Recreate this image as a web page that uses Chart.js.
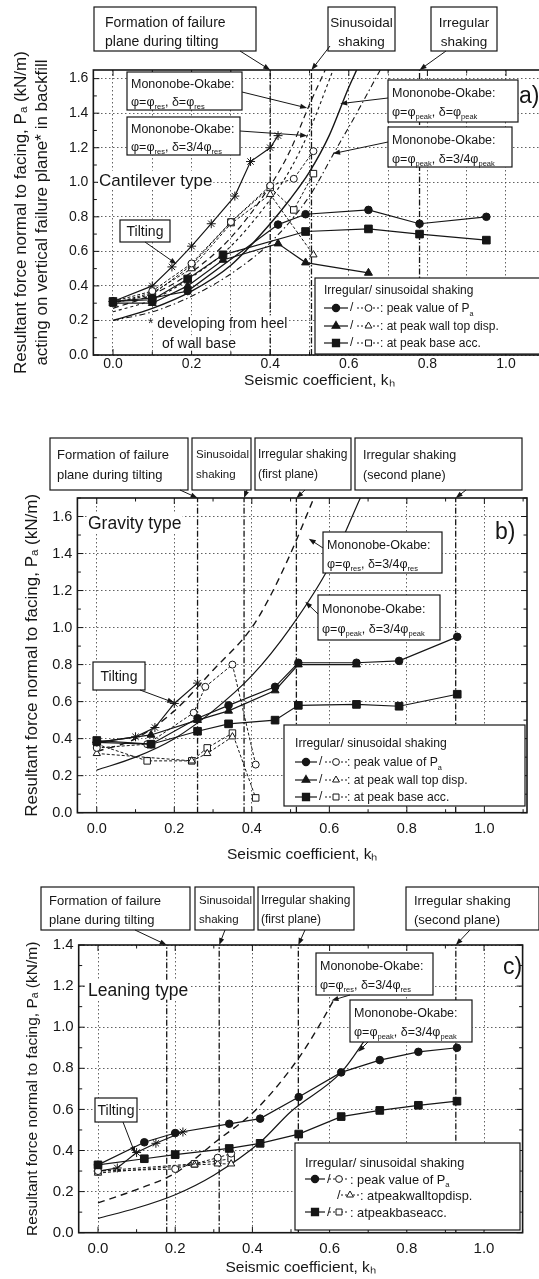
<!DOCTYPE html>
<html><head><meta charset="utf-8">
<script src="https://cdn.jsdelivr.net/npm/chart.js@4.4.1/dist/chart.umd.min.js"></script>
<style>
html,body{margin:0;padding:0;background:#fff;width:539px;height:1279px;overflow:hidden;position:relative}
canvas{position:absolute;left:0}
</style></head><body>
<canvas id="ca" width="560" height="395" style="top:0"></canvas>
<canvas id="cb" width="539" height="470" style="top:400px"></canvas>
<canvas id="cc" width="539" height="409" style="top:870px"></canvas>
<script>
// ================= DATA =================
const xTickLabels = ['0.0','0.2','0.4','0.6','0.8','1.0'];
// ---- Panel a) Cantilever type ----
const aPeakIrr   = [[0,0.31],[0.10,0.33],[0.19,0.37],[0.42,0.755],[0.49,0.815],[0.65,0.84],[0.78,0.76],[0.95,0.80]];
const aDispIrr   = [[0,0.30],[0.10,0.30],[0.19,0.40],[0.28,0.55],[0.42,0.645],[0.49,0.535],[0.65,0.475]];
const aAccIrr    = [[0,0.31],[0.10,0.32],[0.19,0.44],[0.28,0.58],[0.49,0.715],[0.65,0.73],[0.78,0.70],[0.95,0.665]];
const aPeakSin   = [[0,0.31],[0.10,0.37],[0.20,0.53],[0.30,0.77],[0.40,0.98],[0.46,1.02],[0.51,1.18]];
const aDispSin   = [[0,0.30],[0.10,0.36],[0.20,0.50],[0.30,0.76],[0.40,0.93],[0.51,0.58]];
const aAccSin    = [[0,0.30],[0.10,0.35],[0.20,0.52],[0.30,0.77],[0.40,0.97],[0.46,0.84],[0.51,1.05]];
const aTilting   = [[0,0.31],[0.10,0.40],[0.15,0.51],[0.20,0.63],[0.25,0.76],[0.31,0.92],[0.35,1.12],[0.40,1.20],[0.42,1.27]];
const aMOresRes  = [[0,0.27],[0.1,0.35],[0.2,0.48],[0.3,0.68],[0.4,0.98],[0.45,1.18],[0.5,1.45],[0.54,1.65]];
const aMOres34   = [[0,0.25],[0.1,0.32],[0.2,0.45],[0.3,0.63],[0.4,0.90],[0.45,1.07],[0.5,1.30],[0.56,1.65]];
const aMOpeakPk  = [[0,0.20],[0.1,0.27],[0.2,0.37],[0.3,0.52],[0.4,0.76],[0.45,0.90],[0.5,1.06],[0.55,1.27],[0.6,1.55],[0.62,1.65]];
const aMOpeak34  = [[0,0.20],[0.1,0.25],[0.2,0.34],[0.3,0.47],[0.4,0.65],[0.5,0.92],[0.56,1.16],[0.62,1.40],[0.68,1.65]];
const aEventK    = [0.40, 0.505, 0.78];
// ---- Panel b) Gravity type ----
const bPeakIrr   = [[0,0.38],[0.14,0.37],[0.26,0.51],[0.34,0.58],[0.46,0.68],[0.52,0.81],[0.67,0.81],[0.78,0.82],[0.93,0.95]];
const bDispIrr   = [[0,0.38],[0.14,0.42],[0.26,0.50],[0.34,0.55],[0.46,0.66],[0.52,0.80],[0.67,0.80]];
const bAccIrr    = [[0,0.39],[0.14,0.37],[0.26,0.44],[0.34,0.48],[0.46,0.50],[0.52,0.58],[0.67,0.585],[0.78,0.575],[0.93,0.64]];
const bPeakSin   = [[0,0.35],[0.13,0.37],[0.25,0.54],[0.28,0.68],[0.35,0.80],[0.41,0.26]];
const bDispSin   = [[0,0.32],[0.245,0.28],[0.285,0.32],[0.35,0.41]];
const bAccSin    = [[0,0.37],[0.13,0.28],[0.245,0.28],[0.285,0.35],[0.35,0.43],[0.41,0.08]];
const bTilting   = [[0,0.38],[0.10,0.41],[0.15,0.46],[0.20,0.59],[0.26,0.70]];
const bMOres34   = [[0,0.33],[0.1,0.40],[0.2,0.55],[0.3,0.77],[0.4,1.00],[0.45,1.18],[0.5,1.40],[0.56,1.70]];
const bMOpeak34  = [[0,0.23],[0.1,0.30],[0.2,0.40],[0.3,0.55],[0.4,0.74],[0.5,1.00],[0.6,1.33],[0.68,1.70]];
const bEventK    = [0.26, 0.38, 0.515, 0.926];
// ---- Panel c) Leaning type ----
const cPeakIrr   = [[0,0.33],[0.12,0.44],[0.20,0.485],[0.34,0.53],[0.42,0.555],[0.52,0.66],[0.63,0.78],[0.73,0.84],[0.83,0.88],[0.93,0.90]];
const cAccIrr    = [[0,0.33],[0.12,0.36],[0.20,0.38],[0.34,0.41],[0.42,0.435],[0.52,0.48],[0.63,0.565],[0.73,0.595],[0.83,0.62],[0.93,0.64]];
const cPeakSin   = [[0,0.30],[0.20,0.31],[0.31,0.365],[0.345,0.385]];
const cDispSin   = [[0,0.29],[0.25,0.33],[0.31,0.335],[0.345,0.335]];
const cAccSin    = [[0,0.30],[0.25,0.335],[0.31,0.35],[0.345,0.36]];
const cTilting   = [[0,0.30],[0.05,0.315],[0.10,0.39],[0.15,0.435],[0.22,0.49]];
const cMOres34   = [[0,0.145],[0.1,0.21],[0.2,0.29],[0.31,0.45],[0.41,0.60],[0.52,0.85],[0.58,1.03],[0.61,1.13]];
const cMOpeak34  = [[0,0.07],[0.1,0.12],[0.2,0.185],[0.3,0.28],[0.42,0.44],[0.5,0.59],[0.63,0.78],[0.70,0.96]];
const cEventK    = [0.178, 0.314, 0.519, 0.927];

// ================= HELPERS =================
const FONT = "'Liberation Sans', Arial, sans-serif";
const INK = '#161616';
const pts = a => a.map(([x,y]) => ({x, y}));

function dsMarker(arr, style, filled, dashed, r) {
  return { data: pts(arr), showLine: true, borderColor: INK, borderWidth: dashed ? 1 : 1.2,
    borderDash: dashed ? [3,2] : [], pointStyle: style, pointRadius: r,
    pointBackgroundColor: filled ? INK : '#fff', pointBorderColor: INK, pointBorderWidth: 1, order: 1 };
}
function dsCurve(arr, dash, w) {
  return { data: pts(arr), showLine: true, borderColor: INK, borderWidth: w, borderDash: dash,
    pointRadius: 0, cubicInterpolationMode: 'monotone', order: 2 };
}
function dsEvents(ks, yMax) {
  return ks.map(k => ({ data: [{x:k,y:0},{x:k,y:yMax}], showLine: true, borderColor: INK, borderWidth: 1.3,
    borderDash: [6,2,1.5,2], pointRadius: 0, order: 3 }));
}

function richParse(s) {
  const out = []; let i = 0, buf = '';
  while (i < s.length) {
    if (s[i] === '_' && s[i+1] === '{') {
      if (buf) { out.push([buf,false]); buf=''; }
      const j = s.indexOf('}', i); out.push([s.slice(i+2,j), true]); i = j+1;
    } else { buf += s[i]; i++; }
  }
  if (buf) out.push([buf,false]);
  return out;
}
function drawRich(ctx, s, x, y, size, align) {
  const segs = richParse(s);
  let w = 0;
  segs.forEach(([t,sub]) => { ctx.font = (sub ? size*0.6 : size) + 'px ' + FONT; w += ctx.measureText(t).width; });
  let cx = align === 'center' ? x - w/2 : x;
  ctx.textAlign = 'left'; ctx.textBaseline = 'alphabetic'; ctx.fillStyle = INK;
  segs.forEach(([t,sub]) => {
    ctx.font = (sub ? size*0.6 : size) + 'px ' + FONT;
    ctx.fillText(t, cx, sub ? y + size*0.28 : y);
    cx += ctx.measureText(t).width;
  });
  return w;
}
function arrow(ctx, x1, y1, x2, y2) {
  const a = Math.atan2(y2-y1, x2-x1), L = 7, W = 2.6;
  ctx.save(); ctx.strokeStyle = INK; ctx.fillStyle = INK; ctx.lineWidth = 1; ctx.setLineDash([]);
  ctx.beginPath(); ctx.moveTo(x1,y1); ctx.lineTo(x2 - L*0.8*Math.cos(a), y2 - L*0.8*Math.sin(a)); ctx.stroke();
  ctx.beginPath(); ctx.moveTo(x2,y2);
  ctx.lineTo(x2 - L*Math.cos(a) + W*Math.sin(a), y2 - L*Math.sin(a) - W*Math.cos(a));
  ctx.lineTo(x2 - L*Math.cos(a) - W*Math.sin(a), y2 - L*Math.sin(a) + W*Math.cos(a));
  ctx.closePath(); ctx.fill(); ctx.restore();
}
function box(ctx, b) {
  ctx.save(); ctx.fillStyle = '#fff'; ctx.fillRect(b.x1, b.y1, b.x2-b.x1, b.y2-b.y1);
  ctx.strokeStyle = INK; ctx.lineWidth = 1.2; ctx.setLineDash([]);
  ctx.strokeRect(b.x1, b.y1, b.x2-b.x1, b.y2-b.y1);
  b.lines.forEach((t,i) => {
    const cy = b.y1 + b.first + i*b.lh;
    if (b.center) drawRich(ctx, t, (b.x1+b.x2)/2, cy + b.size*0.36, b.size, 'center');
    else drawRich(ctx, t, b.x1 + b.tx, cy + b.size*0.36, b.size, 'left');
  });
  ctx.restore();
}
function label(ctx, t, x, y, size, bg) {
  ctx.save(); ctx.font = size + 'px ' + FONT;
  const w = ctx.measureText(t).width;
  if (bg) { ctx.fillStyle = '#fff'; ctx.fillRect(x-1, y - size*0.55, w+2, size*1.1); }
  drawRich(ctx, t, x, y + size*0.36, size, 'left');
  ctx.restore();
}
function legendRow(ctx, x, y, s1, s2, text, size, g) {
  ctx.save(); ctx.strokeStyle = INK; ctx.fillStyle = INK;
  if (s1) {
    ctx.lineWidth = 1.2; ctx.setLineDash([]);
    ctx.beginPath(); ctx.moveTo(x+g.a1, y); ctx.lineTo(x+g.a2, y); ctx.stroke();
    Chart.helpers.drawPoint(ctx, {pointStyle: s1, radius: s1==='rect'?5:(s1==='triangle'?4.5:3.6), borderWidth: 1}, x+(g.a1+g.a2)/2, y);
  }
  ctx.font = size + 'px ' + FONT; ctx.textBaseline = 'middle'; ctx.fillText('/', x+g.slash, y);
  ctx.lineWidth = 1; ctx.setLineDash([2,2]);
  ctx.beginPath(); ctx.moveTo(x+g.b1, y); ctx.lineTo(x+g.b2, y); ctx.stroke(); ctx.setLineDash([]);
  ctx.fillStyle = '#fff';
  Chart.helpers.drawPoint(ctx, {pointStyle: s2, radius: s2==='rect'?4.2:(s2==='triangle'?4:3.4), borderWidth: 1}, x+(g.b1+g.b2)/2, y);
  ctx.fillStyle = INK;
  drawRich(ctx, text, x+g.t, y + size*0.36, size, 'left');
  ctx.restore();
}

function makeDecor(spec) {
  return {
    id: 'decor',
    afterDraw(chart) {
      const ctx = chart.ctx, A = chart.chartArea, xs = chart.scales.x, ys = chart.scales.y;
      ctx.save();
      ctx.strokeStyle = INK; ctx.lineWidth = 1; ctx.setLineDash([]);
      for (let v = 0; v <= ys.max + 1e-9; v += 0.1) {
        const p = ys.getPixelForValue(v), major = Math.round(v*10) % 2 === 0, L = major ? 6 : 3.5;
        ctx.beginPath(); ctx.moveTo(A.left, p); ctx.lineTo(A.left+L, p); ctx.moveTo(A.right, p); ctx.lineTo(A.right-L, p); ctx.stroke();
      }
      for (let v = 0; v <= xs.max + 1e-9; v += 0.1) {
        const p = xs.getPixelForValue(v), major = Math.round(v*10) % 2 === 0, L = major ? 6 : 3.5;
        ctx.beginPath(); ctx.moveTo(p, A.bottom); ctx.lineTo(p, A.bottom-L); ctx.moveTo(p, A.top); ctx.lineTo(p, A.top+L); ctx.stroke();
      }
      ctx.lineWidth = 1.6; ctx.strokeRect(A.left, A.top, A.right-A.left, A.bottom-A.top);
      ctx.translate(0, -spec.offY);
      const P = (k, v) => [xs.getPixelForValue(k), ys.getPixelForValue(v) + spec.offY];
      spec.texts.forEach(t => label(ctx, t.s, t.x, t.y, t.size, t.bg));
      spec.boxes.forEach(b => {
        box(ctx, b);
        if (b.arrow) { const [tx, ty] = P(b.arrow.k, b.arrow.v); arrow(ctx, b.arrow.x, b.arrow.y, tx, ty); }
      });
      const L = spec.legend;
      ctx.fillStyle = '#fff'; ctx.fillRect(L.x1, L.y1, L.x2-L.x1, L.y2-L.y1);
      ctx.strokeStyle = INK; ctx.lineWidth = 1.2; ctx.strokeRect(L.x1, L.y1, L.x2-L.x1, L.y2-L.y1);
      drawRich(ctx, 'Irregular/ sinusoidal shaking', L.tx, L.rows[0] + L.size*0.36, L.size, 'left');
      legendRow(ctx, L.tx, L.rows[1], 'circle', 'circle', L.texts[0], L.size, L.g);
      legendRow(ctx, L.tx, L.rows[2], L.noTri ? null : 'triangle', 'triangle', L.texts[1], L.size, L.g2 || L.g);
      legendRow(ctx, L.tx, L.rows[3], 'rect', 'rect', L.texts[2], L.size, L.g);
      ctx.font = '23px ' + FONT; ctx.fillStyle = INK; ctx.textBaseline = 'middle'; ctx.textAlign = 'left';
      ctx.fillText(spec.letter.s, spec.letter.x, spec.letter.y);
      ctx.restore();
    }
  };
}

function makeChart(id, cfg) {
  const c = document.getElementById(id);
  const W = c.width, H = c.height;
  const tickCb = v => {
    const s = (Math.round(v*10)/10).toFixed(1);
    return xTickLabels.includes(s) && Math.round(v*10) % 2 === 0 ? s : '';
  };
  return new Chart(c, {
    type: 'scatter',
    data: { datasets: cfg.datasets },
    options: {
      responsive: false, animation: false, events: [],
      layout: { padding: { left: 0, top: cfg.area.top, right: W - cfg.area.right, bottom: 0 } },
      plugins: { legend: { display: false }, tooltip: { enabled: false } },
      scales: {
        x: { type: 'linear', min: -0.05, max: cfg.xMax,
          afterFit: s => { s.height = H - cfg.area.bottom; },
          ticks: { stepSize: cfg.xStep, includeBounds: false, autoSkip: false, maxRotation: 0, padding: cfg.xPad,
            color: INK, font: { family: FONT, size: cfg.tickSize }, callback: tickCb },
          grid: { color: '#3a3a3a', lineWidth: 0.8, drawTicks: false },
          border: { display: false, dash: [1.5, 2.5] },
          title: { display: true, text: 'Seismic coefficient, kₕ', color: INK,
            font: { family: FONT, size: 15.5 }, padding: { top: 0, bottom: cfg.xTitlePad } } },
        y: { type: 'linear', min: 0, max: cfg.yMax,
          afterFit: s => { s.width = cfg.area.left; },
          ticks: { stepSize: 0.2, includeBounds: false, padding: 5, color: INK,
            font: { family: FONT, size: cfg.tickSize }, callback: v => v.toFixed(1) },
          grid: { color: '#3a3a3a', lineWidth: 0.8, drawTicks: false },
          border: { display: false, dash: [1.5, 2.5] },
          title: { display: true, text: cfg.yTitle, color: INK,
            font: { family: FONT, size: cfg.yTitleSize, lineHeight: 1.2 }, padding: { top: cfg.yTitlePad, bottom: 0 } } }
      }
    },
    plugins: [makeDecor(cfg.spec)]
  });
}

// ================= PANEL a =================
makeChart('ca', {
  area: { left: 93.35, top: 70, right: 545.3, bottom: 355 }, xMax: 1.1, yMax: 1.65, xStep: 0.1, xPad: 1, xTitlePad: 5, tickSize: 14,
  yTitle: ['Resultant force normal to facing, Pₐ (kN/m)', 'acting on vertical failure plane* in backfill'], yTitlePad: 11.5, yTitleSize: 17,
  datasets: [
    dsMarker(aPeakIrr, 'circle', true, false, 3.8),
    dsMarker(aDispIrr, 'triangle', true, false, 4.6),
    dsMarker(aAccIrr, 'rect', true, false, 5.4),
    dsMarker(aPeakSin, 'circle', false, true, 3.5),
    dsMarker(aDispSin, 'triangle', false, true, 4.2),
    dsMarker(aAccSin, 'rect', false, true, 4.6),
    dsMarker(aTilting, 'star', false, false, 4.5),
    dsCurve(aMOresRes, [6,4], 1.2),
    dsCurve(aMOres34, [3,3], 1.1),
    dsCurve(aMOpeakPk, [], 1.4),
    dsCurve(aMOpeak34, [6,3,1.5,3], 1.1),
    ...dsEvents(aEventK, 1.65)
  ],
  spec: { offY: 0,
    texts: [ { s: 'Cantilever type', x: 99, y: 180, size: 17, bg: true },
             { s: '* developing from heel', x: 148, y: 323, size: 14, bg: true },
             { s: 'of wall base', x: 162, y: 343, size: 14, bg: true } ],
    boxes: [
      { x1: 94, y1: 7, x2: 256, y2: 51, size: 14, first: 15, lh: 19, tx: 11, lines: ['Formation of failure', 'plane during tilting'], arrow: { x: 240, y: 51, k: 0.40, v: 1.65 } },
      { x1: 328, y1: 7, x2: 395, y2: 51, size: 13.5, first: 15, lh: 19, center: true, lines: ['Sinusoidal', 'shaking'], arrow: { x: 330, y: 46, k: 0.505, v: 1.65 } },
      { x1: 431, y1: 7, x2: 497, y2: 51, size: 13.5, first: 15, lh: 19, center: true, lines: ['Irregular', 'shaking'], arrow: { x: 446, y: 51, k: 0.78, v: 1.65 } },
      { x1: 127, y1: 72, x2: 242, y2: 110, size: 12.5, first: 11, lh: 18, tx: 4, lines: ['Mononobe-Okabe:', 'φ=φ_{res}, δ=φ_{res}'], arrow: { x: 242, y: 92, k: 0.494, v: 1.43 } },
      { x1: 127, y1: 117, x2: 240, y2: 155, size: 12.5, first: 11, lh: 18, tx: 4, lines: ['Mononobe-Okabe:', 'φ=φ_{res}, δ=3/4φ_{res}'], arrow: { x: 240, y: 131, k: 0.494, v: 1.27 } },
      { x1: 388, y1: 80, x2: 518, y2: 122, size: 12.5, first: 12, lh: 19, tx: 4, lines: ['Mononobe-Okabe:', 'φ=φ_{peak}, δ=φ_{peak}'], arrow: { x: 388, y: 98, k: 0.578, v: 1.455 } },
      { x1: 388, y1: 127, x2: 512, y2: 167, size: 12.5, first: 12, lh: 19, tx: 4, lines: ['Mononobe-Okabe:', 'φ=φ_{peak}, δ=3/4φ_{peak}'], arrow: { x: 388, y: 142, k: 0.56, v: 1.166 } },
      { x1: 120, y1: 220, x2: 170, y2: 242, size: 14, first: 11, lh: 18, center: true, lines: ['Tilting'], arrow: { x: 145, y: 242, k: 0.162, v: 0.526 } }
    ],
    legend: { x1: 315, y1: 278, x2: 560, y2: 354, tx: 324, size: 12, rows: [290, 308, 326, 343],
      texts: [': peak value of P_{a}', ': at peak wall top disp.', ': at peak base acc.'],
      g: { a1: 0, a2: 24, slash: 26, b1: 33, b2: 56, t: 56 } },
    letter: { s: 'a)', x: 519, y: 97 } }
});

// ================= PANEL b =================
makeChart('cb', {
  area: { left: 77.4, top: 98, right: 527, bottom: 412.7 }, xMax: 1.11, yMax: 1.7, xStep: 0.2, xPad: 8, xTitlePad: 6, tickSize: 14.5,
  yTitle: 'Resultant force normal to facing, Pₐ (kN/m)', yTitlePad: 22, yTitleSize: 17,
  datasets: [
    dsMarker(bPeakIrr, 'circle', true, false, 3.8),
    dsMarker(bDispIrr, 'triangle', true, false, 4.6),
    dsMarker(bAccIrr, 'rect', true, false, 5.4),
    dsMarker(bPeakSin, 'circle', false, true, 3.5),
    dsMarker(bDispSin, 'triangle', false, true, 4.2),
    dsMarker(bAccSin, 'rect', false, true, 4.6),
    dsMarker(bTilting, 'star', false, false, 4.5),
    dsCurve(bMOres34, [7,5], 1.4),
    dsCurve(bMOpeak34, [], 1.2),
    ...dsEvents(bEventK, 1.7)
  ],
  spec: { offY: 400,
    texts: [ { s: 'Gravity type', x: 88, y: 523, size: 17.5, bg: true } ],
    boxes: [
      { x1: 50, y1: 438, x2: 188, y2: 490, size: 13, first: 16, lh: 20, tx: 7, lines: ['Formation of failure', 'plane during tilting'], arrow: { x: 180, y: 490, k: 0.26, v: 1.7 } },
      { x1: 192, y1: 438, x2: 251, y2: 490, size: 11.5, first: 16, lh: 20, tx: 4, lines: ['Sinusoidal', 'shaking'], arrow: { x: 247, y: 490, k: 0.38, v: 1.7 } },
      { x1: 255, y1: 438, x2: 351, y2: 490, size: 12, first: 16, lh: 20, tx: 3, lines: ['Irregular shaking', '(first plane)'], arrow: { x: 305, y: 490, k: 0.515, v: 1.7 } },
      { x1: 355, y1: 438, x2: 522, y2: 490, size: 12.5, first: 16, lh: 20, tx: 8, lines: ['Irregular shaking', '(second plane)'], arrow: { x: 466, y: 490, k: 0.926, v: 1.7 } },
      { x1: 323, y1: 532, x2: 442, y2: 573, size: 12.5, first: 12, lh: 19, tx: 4, lines: ['Mononobe-Okabe:', 'φ=φ_{res}, δ=3/4φ_{res}'], arrow: { x: 323, y: 548, k: 0.547, v: 1.48 } },
      { x1: 318, y1: 595, x2: 440, y2: 640, size: 12.5, first: 13, lh: 20, tx: 4, lines: ['Mononobe-Okabe:', 'φ=φ_{peak}, δ=3/4φ_{peak}'], arrow: { x: 318, y: 614, k: 0.538, v: 1.14 } },
      { x1: 93, y1: 662, x2: 145, y2: 690, size: 14, first: 14, lh: 18, center: true, lines: ['Tilting'], arrow: { x: 140, y: 690, k: 0.20, v: 0.594 } }
    ],
    legend: { x1: 284, y1: 725, x2: 525, y2: 806, tx: 295, size: 12.2, rows: [743, 762, 780, 797],
      texts: [': peak value of P_{a}', ': at peak wall top disp.', ': at peak base acc.'],
      g: { a1: 0, a2: 22, slash: 24, b1: 30, b2: 52, t: 52 } },
    letter: { s: 'b)', x: 495, y: 533 } }
});

// ================= PANEL c =================
makeChart('cc', {
  area: { left: 78.7, top: 75, right: 522.6, bottom: 362.7 }, xMax: 1.1, yMax: 1.4, xStep: 0.2, xPad: 7.6, xTitlePad: 2, tickSize: 15,
  yTitle: 'Resultant force normal to facing, Pₐ (kN/m)', yTitlePad: 23, yTitleSize: 15.5,
  datasets: [
    dsMarker(cPeakIrr, 'circle', true, false, 3.8),
    dsMarker(cAccIrr, 'rect', true, false, 5.4),
    dsMarker(cPeakSin, 'circle', false, true, 3.5),
    dsMarker(cDispSin, 'triangle', false, true, 4.2),
    dsMarker(cAccSin, 'rect', false, true, 4.6),
    dsMarker(cTilting, 'star', false, false, 4.5),
    dsCurve(cMOres34, [7,5], 1.4),
    dsCurve(cMOpeak34, [], 1.2),
    ...dsEvents(cEventK, 1.4)
  ],
  spec: { offY: 870,
    texts: [ { s: 'Leaning type', x: 88, y: 990, size: 17.5, bg: true } ],
    boxes: [
      { x1: 41, y1: 887, x2: 190, y2: 930, size: 13, first: 13, lh: 19, tx: 8, lines: ['Formation of failure', 'plane during tilting'], arrow: { x: 135, y: 930, k: 0.178, v: 1.4 } },
      { x1: 195, y1: 887, x2: 254, y2: 930, size: 11.5, first: 13, lh: 19, tx: 4, lines: ['Sinusoidal', 'shaking'], arrow: { x: 225, y: 930, k: 0.314, v: 1.4 } },
      { x1: 258, y1: 887, x2: 354, y2: 930, size: 12, first: 13, lh: 19, tx: 3, lines: ['Irregular shaking', '(first plane)'], arrow: { x: 305, y: 930, k: 0.519, v: 1.4 } },
      { x1: 406, y1: 887, x2: 539, y2: 930, size: 13, first: 13, lh: 19, tx: 8, lines: ['Irregular shaking', '(second plane)'], arrow: { x: 470, y: 930, k: 0.927, v: 1.4 } },
      { x1: 316, y1: 953, x2: 433, y2: 995, size: 12.5, first: 12, lh: 19, tx: 4, lines: ['Mononobe-Okabe:', 'φ=φ_{res}, δ=3/4φ_{res}'], arrow: { x: 350, y: 995, k: 0.605, v: 1.13 } },
      { x1: 350, y1: 1000, x2: 472, y2: 1042, size: 12.5, first: 12, lh: 19, tx: 4, lines: ['Mononobe-Okabe:', 'φ=φ_{peak}, δ=3/4φ_{peak}'], arrow: { x: 368, y: 1042, k: 0.674, v: 0.88 } },
      { x1: 95, y1: 1098, x2: 137, y2: 1122, size: 14, first: 12, lh: 18, center: true, lines: ['Tilting'], arrow: { x: 123, y: 1122, k: 0.096, v: 0.386 } }
    ],
    legend: { x1: 295, y1: 1143, x2: 520, y2: 1230, tx: 305, size: 12.8, rows: [1162, 1179, 1195, 1212], noTri: true,
      texts: [': peak value of P_{a}', ': atpeakwalltopdisp.', ': atpeakbaseacc.'],
      g: { a1: 0, a2: 20, slash: 22, b1: 24, b2: 44, t: 45 },
      g2: { a1: 0, a2: 20, slash: 32, b1: 36, b2: 54, t: 55 } },
    letter: { s: 'c)', x: 503, y: 968 } }
});
</script>
</body></html>
